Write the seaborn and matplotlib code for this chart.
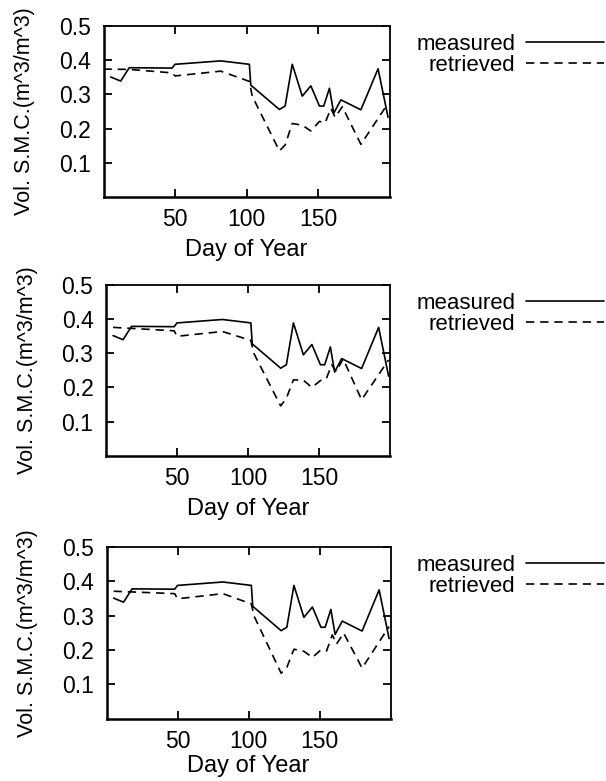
import matplotlib
matplotlib.use("Agg")
import matplotlib.pyplot as plt
import seaborn as sns

# day of year for the measured soil moisture (same in all three panels)
day_meas = [5, 12, 18, 48, 50, 82, 102, 103, 123, 127, 132, 139, 145, 151, 154, 158, 161, 166, 180, 192, 199]
smc_meas = [0.351, 0.339, 0.378, 0.377, 0.388, 0.398, 0.388, 0.327, 0.256, 0.266, 0.388, 0.295,
            0.325, 0.266, 0.266, 0.318, 0.245, 0.284, 0.255, 0.375, 0.233]

# retrieved soil moisture, one series per panel
day_retr_a = [0, 18, 48, 50, 82, 102, 104, 123, 127, 132, 139, 145, 151, 155, 159, 162, 167, 180, 199]
day_retr = [5, 18, 48, 50, 82, 102, 104, 123, 127, 132, 139, 145, 151, 155, 159, 162, 167, 180, 199]
smc_retr_a = [0.374, 0.373, 0.363, 0.354, 0.368, 0.338, 0.295, 0.135, 0.152, 0.215, 0.210, 0.193,
              0.221, 0.217, 0.259, 0.233, 0.264, 0.154, 0.274]
smc_retr_b = [0.375, 0.372, 0.365, 0.349, 0.363, 0.337, 0.300, 0.146, 0.168, 0.222, 0.221, 0.200,
              0.220, 0.224, 0.266, 0.246, 0.283, 0.164, 0.280]
smc_retr_c = [0.371, 0.369, 0.364, 0.349, 0.364, 0.334, 0.298, 0.132, 0.149, 0.202, 0.196, 0.178,
              0.200, 0.197, 0.244, 0.217, 0.249, 0.147, 0.268]

xticks = [50, 100, 150]
yticks = [0.1, 0.2, 0.3, 0.4, 0.5]

sns.set_style("ticks")
plt.rcParams['font.family'] = ['Liberation Sans', 'DejaVu Sans']
plt.rcParams['font.size'] = 16.5
plt.rcParams['text.color'] = 'black'
plt.rcParams['axes.labelcolor'] = 'black'

W, H = 606, 781
fig = plt.figure(figsize=(W / 100, H / 100), dpi=100)

# panel boxes in pixels: left, top, right, bottom
boxes = [(103.5, 26, 389.5, 197), (106, 284.5, 390, 456), (106.5, 547, 390.5, 718.5)]
series = [(day_retr_a, smc_retr_a), (day_retr, smc_retr_b), (day_retr, smc_retr_c)]
xlabel_pads = [6, 6, 2]

for (l, t, r, b), (dr, sr), lp in zip(boxes, series, xlabel_pads):
    ax = fig.add_axes([l / W, 1 - b / H, (r - l) / W, (b - t) / H])
    sns.lineplot(x=day_meas, y=smc_meas, ax=ax, color='black', lw=1.2, sort=False, label='measured')
    sns.lineplot(x=dr, y=sr, ax=ax, color='black', lw=1.2, sort=False,
                 linestyle=(0, (5, 3.5)), label='retrieved')
    ax.set_xlim(0, 200)
    ax.set_ylim(0, 0.5)
    ax.set_xticks(xticks)
    ax.set_yticks(yticks)
    ax.tick_params(direction='in', top=True, right=True, length=6, width=1.3,
                   colors='black', pad=8, labelsize=16.5)
    ax.tick_params(axis='y', pad=9)
    for s in ax.spines.values():
        s.set_linewidth(1.3)
        s.set_color('black')
    ax.spines['left'].set_linewidth(1.8)
    ax.spines['bottom'].set_linewidth(1.8)
    ax.set_xlabel('Day of Year', labelpad=lp, fontsize=17)
    ax.set_ylabel('Vol. S.M.C.(m^3/m^3)', fontsize=15.5)
    ax.yaxis.set_label_coords(-0.24, 0.5)
    pw, ph = r - l, b - t
    ax.legend(loc='upper right', bbox_to_anchor=((604 - l) / pw, 1 - 8 / ph),
              frameon=False, markerfirst=False, borderpad=0, borderaxespad=0,
              handlelength=3.5, handletextpad=0.5, labelspacing=0.0, fontsize=16)

fig.savefig('out.png', dpi=100)
